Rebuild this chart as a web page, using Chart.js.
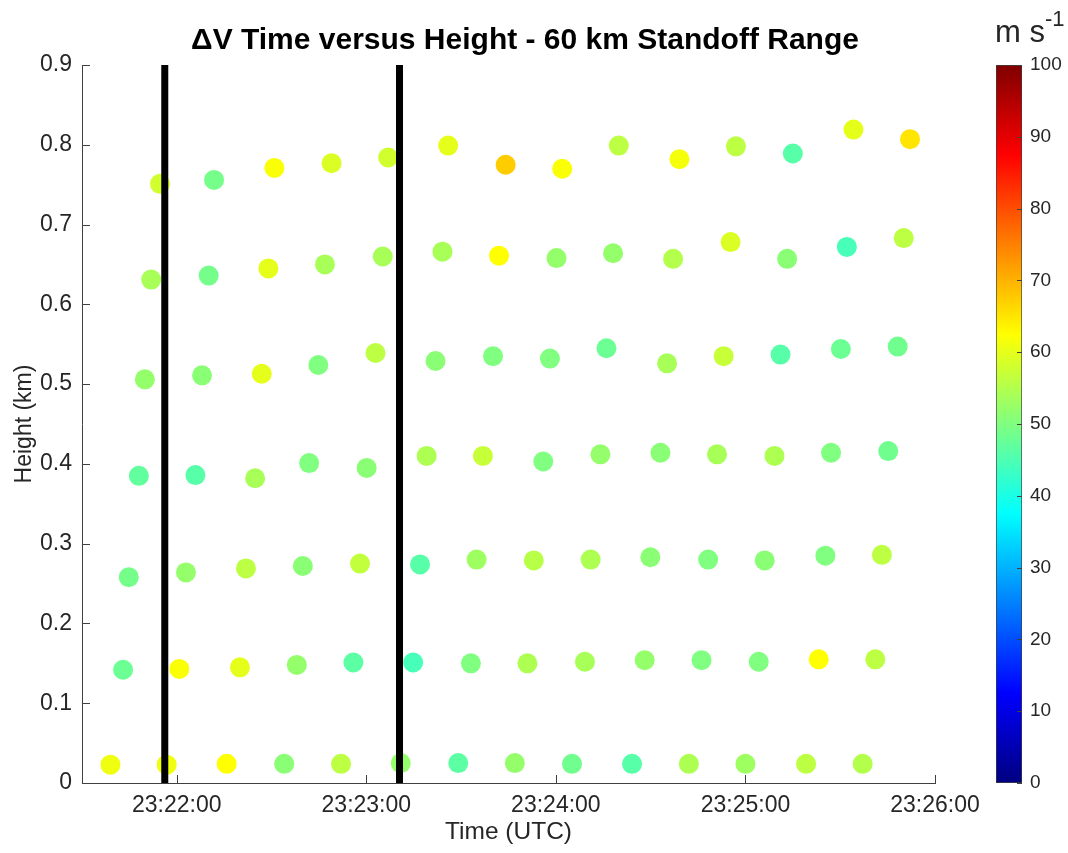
<!DOCTYPE html>
<html>
<head>
<meta charset="utf-8">
<script src="https://cdn.jsdelivr.net/npm/chart.js@4.4.1/dist/chart.umd.min.js"></script>
<style>
  html, body { margin: 0; padding: 0; background: #fff; }
  #wrap { position: relative; width: 1068px; height: 853px; font-family: "Liberation Sans", Arial, sans-serif; }
  #main { position: absolute; left: 0; top: 0; }
  #cbar { position: absolute; left: 990px; top: 0; }
  #title { position: absolute; left: 0; width: 1050px; top: 24px; text-align: center;
           font-weight: bold; font-size: 30px; line-height: 30px; color: #000; }
  #units { position: absolute; left: 995px; top: 16px; font-size: 31px; line-height: 31px; color: #262626; }
  #units span { font-size: 22px; position: relative; top: -16px; }
</style>
</head>
<body>
<div id="wrap">
  <canvas id="main" width="1068" height="853"></canvas>
  <canvas id="cbar" width="78" height="853"></canvas>
  <div id="title">ΔV Time versus Height - 60 km Standoff Range</div>
  <div id="units">m s<span>-1</span></div>
</div>
<script>
// scan times are seconds after 23:21:00 UTC, heights in km, dV in m/s
// one array set per scan row, lowest row first
const t1 = [39.0, 56.8, 75.8, 94.0, 112.0, 130.9, 149.1, 167.0, 185.1, 204.1, 222.1, 240.0, 259.2, 277.1];
const h1 = [0.023, 0.023, 0.024, 0.024, 0.024, 0.025, 0.025, 0.025, 0.024, 0.024, 0.024, 0.024, 0.024, 0.024];
const v1 = [61, 61, 62.5, 51, 56, 52, 46.5, 52, 48.5, 46, 54.5, 53, 56, 55];

const t2 = [43.0, 60.8, 80.0, 98.0, 115.9, 134.8, 153.1, 171.0, 189.2, 208.1, 226.1, 244.2, 263.2, 281.1];
const h2 = [0.142, 0.143, 0.145, 0.148, 0.151, 0.151, 0.150, 0.150, 0.152, 0.154, 0.154, 0.152, 0.155, 0.155];
const v2 = [48, 62, 60, 52, 46.5, 44.5, 50, 54.5, 54, 52, 50, 50, 62.5, 56];

const t3 = [44.8, 62.9, 81.9, 99.9, 118.0, 137.0, 154.9, 173.0, 191.0, 209.9, 228.2, 246.1, 265.3, 283.2];
const h3 = [0.258, 0.264, 0.269, 0.272, 0.275, 0.274, 0.280, 0.279, 0.280, 0.283, 0.280, 0.279, 0.285, 0.286];
const v3 = [49, 52, 56, 51, 56.5, 46, 53, 55.5, 54.5, 51, 50, 51, 50, 56];

const t4 = [48.0, 65.9, 84.8, 101.9, 120.1, 139.1, 156.9, 176.0, 194.1, 213.1, 231.0, 249.2, 267.1, 285.2];
const h4 = [0.385, 0.386, 0.382, 0.401, 0.395, 0.410, 0.410, 0.403, 0.412, 0.414, 0.412, 0.410, 0.414, 0.416];
const v4 = [47, 46, 54, 50, 51, 54.5, 57, 50, 52, 51, 54, 54.5, 50, 48.5];

const t5 = [49.9, 68.0, 86.9, 104.8, 122.9, 141.9, 160.1, 178.1, 196.0, 215.2, 233.1, 251.1, 270.2, 288.2];
const h5 = [0.506, 0.511, 0.513, 0.524, 0.539, 0.529, 0.535, 0.532, 0.545, 0.526, 0.535, 0.537, 0.544, 0.547];
const v5 = [52, 51, 60, 50, 56, 51, 50, 50, 48, 54, 57, 46, 48, 48.5];

const t6 = [51.9, 70.1, 89.0, 106.9, 125.2, 144.1, 162.0, 180.2, 198.1, 217.1, 235.3, 253.2, 272.1, 290.1];
const h6 = [0.631, 0.636, 0.645, 0.650, 0.660, 0.666, 0.661, 0.658, 0.664, 0.657, 0.678, 0.657, 0.672, 0.683];
const v6 = [54, 49, 60, 54, 54, 54, 62.5, 52, 52, 55, 59, 51, 44.5, 56];

const t7 = [54.7, 71.8, 90.9, 109.0, 126.9, 145.9, 164.1, 182.0, 199.9, 219.1, 237.0, 255.0, 274.2, 292.1];
const h7 = [0.751, 0.756, 0.771, 0.777, 0.784, 0.799, 0.775, 0.770, 0.799, 0.782, 0.798, 0.789, 0.819, 0.807];
const v7 = [58, 49, 62, 59, 58, 60, 67.5, 62, 56, 61.5, 56, 46, 60, 65];

// the two black marker lines
const markerTimes = [56.2, 130.5];

// axis ticks
const xTicks = [60, 120, 180, 240, 300];
const yTicks = [0, 0.1, 0.2, 0.3, 0.4, 0.5, 0.6, 0.7, 0.8, 0.9];
const cbTicks = [0, 10, 20, 30, 40, 50, 60, 70, 80, 90, 100];

const rows = [[t1, h1, v1], [t2, h2, v2], [t3, h3, v3], [t4, h4, v4], [t5, h5, v5], [t6, h6, v6], [t7, h7, v7]];

const axisColor = '#404040';
const textColor = '#262626';
const font = '"Liberation Sans", Arial, sans-serif';

// MATLAB jet colormap, x in [0,1]
function jet(x) {
    const c = v => Math.round(255 * Math.max(0, Math.min(1, v)));
    return `rgb(${c(1.5 - Math.abs(4 * x - 3))},${c(1.5 - Math.abs(4 * x - 2))},${c(1.5 - Math.abs(4 * x - 1))})`;
}
const cMin = cbTicks[0], cMax = cbTicks[cbTicks.length - 1];
const colorFor = v => jet((v - cMin) / (cMax - cMin));

function clock(s) {
    const total = 23 * 3600 + 21 * 60 + Math.round(s);
    const pad = n => String(n).padStart(2, '0');
    return `${pad(Math.floor(total / 3600))}:${pad(Math.floor(total / 60) % 60)}:${pad(total % 60)}`;
}

// MATLAB style ticks pointing into the axes
const inwardTicks = {
    id: 'inwardTicks',
    afterDraw(chart, args, opts) {
        const { ctx, chartArea: a } = chart;
        ctx.save();
        ctx.strokeStyle = opts.color;
        ctx.lineWidth = 1;
        ctx.beginPath();
        Object.values(chart.scales).forEach(s => {
            if (!s.options.display) return;
            s.ticks.forEach((t, i) => {
                const p = Math.round(s.getPixelForTick(i)) + 0.5;
                if (s.position === 'bottom') { ctx.moveTo(p, a.bottom); ctx.lineTo(p, a.bottom - opts.length); }
                else if (s.position === 'left') { ctx.moveTo(a.left, p); ctx.lineTo(a.left + opts.length, p); }
                else if (s.position === 'right') { ctx.moveTo(a.right, p); ctx.lineTo(a.right - opts.length, p); }
            });
        });
        ctx.stroke();
        ctx.restore();
    }
};

Chart.defaults.font.family = font;

const lineSets = markerTimes.map(t => ({
    data: [{ x: t, y: yTicks[0] }, { x: t, y: yTicks[yTicks.length - 1] }],
    showLine: true,
    borderColor: '#000',
    borderWidth: 7,
    borderCapStyle: 'butt',
    pointRadius: 0,
    order: 0
}));

const pointSets = rows.map(([t, h, v]) => ({
    data: t.map((x, i) => ({ x: x, y: h[i] })),
    pointBackgroundColor: v.map(colorFor),
    pointBorderWidth: 0,
    pointRadius: 10,
    pointHoverRadius: 10,
    order: 1
}));

new Chart(document.getElementById('main'), {
    type: 'scatter',
    data: { datasets: [...lineSets, ...pointSets] },
    plugins: [inwardTicks],
    options: {
        responsive: false,
        animation: false,
        layout: { padding: { left: 0, right: 133, top: 65, bottom: 0 } },
        plugins: {
            legend: { display: false },
            tooltip: { enabled: false },
            inwardTicks: { length: 8, color: axisColor }
        },
        scales: {
            x: {
                type: 'linear',
                min: 30,
                max: 300,
                afterBuildTicks: s => { s.ticks = xTicks.map(v => ({ value: v })); },
                afterFit: s => { s.height = 70; },
                grid: { display: false, drawTicks: false },
                border: { color: axisColor, width: 1 },
                ticks: { callback: v => clock(v), font: { size: 23 }, color: textColor, padding: 9, maxRotation: 0, autoSkip: false },
                title: { display: true, text: 'Time (UTC)', font: { size: 24.5 }, color: textColor, padding: { top: 0, bottom: 6 } }
            },
            y: {
                min: 0,
                max: 0.9,
                afterBuildTicks: s => { s.ticks = yTicks.map(v => ({ value: v })); },
                afterFit: s => { s.width = 82; },
                grid: { display: false, drawTicks: false },
                border: { color: axisColor, width: 1 },
                ticks: { callback: v => String(v), font: { size: 23 }, color: textColor, padding: 10 },
                title: { display: true, text: 'Height (km)', font: { size: 23 }, color: textColor, padding: { top: 11, bottom: 0 } }
            }
        }
    }
});

// colorbar as a single floating bar filled with the jet gradient
new Chart(document.getElementById('cbar'), {
    type: 'bar',
    data: {
        labels: [''],
        datasets: [{
            data: [[cMin, cMax]],
            backgroundColor: c => {
                const area = c.chart.chartArea;
                if (!area) return '#fff';
                const g = c.chart.ctx.createLinearGradient(0, area.bottom, 0, area.top);
                for (let i = 0; i <= 64; i++) g.addColorStop(i / 64, jet(i / 64));
                return g;
            },
            borderColor: axisColor,
            borderWidth: 1,
            borderSkipped: false,
            barPercentage: 1,
            categoryPercentage: 1
        }]
    },
    plugins: [inwardTicks],
    options: {
        responsive: false,
        animation: false,
        layout: { padding: { left: 6, right: 0, top: 65, bottom: 70 } },
        plugins: {
            legend: { display: false },
            tooltip: { enabled: false },
            inwardTicks: { length: 5, color: axisColor }
        },
        scales: {
            x: { display: false },
            y: {
                position: 'right',
                min: cMin,
                max: cMax,
                afterBuildTicks: s => { s.ticks = cbTicks.map(v => ({ value: v })); },
                afterFit: s => { s.width = 46; },
                grid: { display: false, drawTicks: false },
                border: { display: false },
                ticks: { font: { size: 19 }, color: textColor, padding: 8 }
            }
        }
    }
});
</script>
</body>
</html>
